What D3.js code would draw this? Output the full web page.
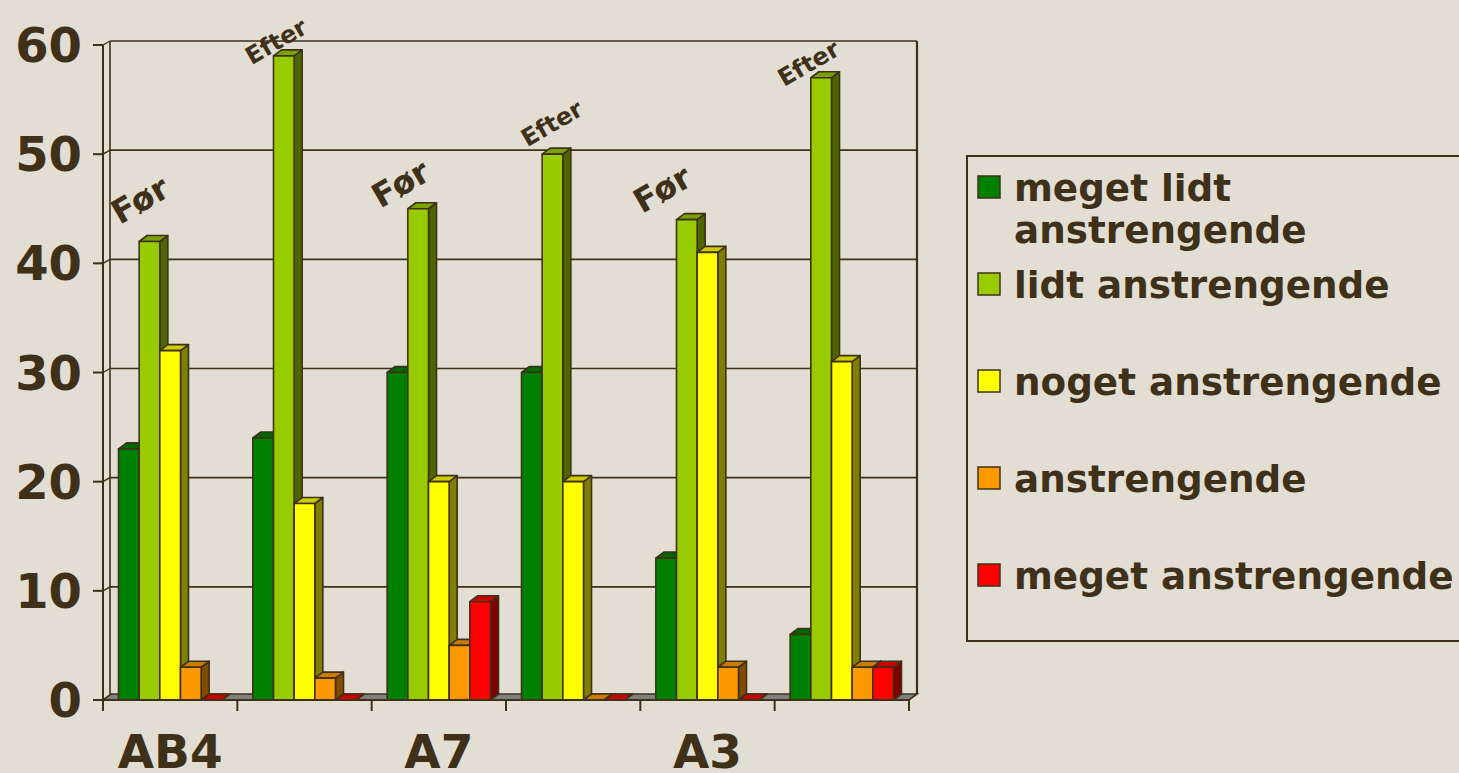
<!DOCTYPE html>
<html>
<head>
<meta charset="utf-8">
<script src="https://cdn.jsdelivr.net/npm/d3@7"></script>
<style>
  html, body { margin: 0; padding: 0; background: #e2ded4; }
  svg { display: block; }
  text { font-family: "DejaVu Sans", Verdana, sans-serif; font-weight: bold; fill: #3f3019; }
</style>
</head>
<body>
<svg id="chart" width="1459" height="773"></svg>
<script>
// Groups: each workplace measured before (Før) and after (Efter)
const groups = ["AB4 Før", "AB4 Efter", "A7 Før", "A7 Efter", "A3 Før", "A3 Efter"];
const axisLabels = ["AB4", "", "A7", "", "A3", ""];
const phaseLabels = ["Før", "Efter", "Før", "Efter", "Før", "Efter"];

// Series (percent of answers)
const seriesNames = ["meget lidt anstrengende", "lidt anstrengende", "noget anstrengende", "anstrengende", "meget anstrengende"];
const megetLidt    = [23, 24, 30, 30, 13, 6];
const lidt         = [42, 59, 45, 50, 44, 57];
const noget        = [32, 18, 20, 20, 41, 31];
const anstrengende = [3, 2, 5, 0, 3, 3];
const meget        = [0, 0, 9, 0, 0, 3];
const yTicks = [0, 10, 20, 30, 40, 50, 60];

(function draw() {
  const seriesValues = [megetLidt, lidt, noget, anstrengende, meget];
  const colors = ["#008000", "#99cc00", "#ffff00", "#ff9900", "#ff0000"];
  const ink = "#3f3019";

  const shade = (c, f) => { const r = d3.rgb(c); return d3.rgb(r.r * f, r.g * f, r.b * f).formatHex(); };

  const svg = d3.select("#chart");

  // Plot frame (front plane) and 3D offsets
  const pl = 103, pr = 909, pb = 700, pt = 45;
  const wall = { dx: 7, dy: -4 };   // back wall offset
  const depth = { dx: 8, dy: -6 };  // bar depth offset

  const x0 = d3.scaleBand().domain(d3.range(groups.length)).range([pl, pr]).paddingInner(0).paddingOuter(0);
  const x1 = d3.scaleBand().domain(d3.range(seriesNames.length)).range([0, x0.bandwidth()]).paddingInner(0).paddingOuter(0.75);
  const y = d3.scaleLinear().domain([0, 60]).range([pb, pt]);

  // Back wall gridlines and left wall
  const grid = svg.append("g").attr("stroke", ink).attr("fill", "none");
  yTicks.forEach(t => {
    const yy = y(t);
    if (t > 0) {
      grid.append("line").attr("x1", pl + wall.dx).attr("x2", pr + wall.dx + 1)
        .attr("y1", yy + wall.dy).attr("y2", yy + wall.dy).attr("stroke-width", 1.6);
    }
    grid.append("line").attr("x1", pl).attr("x2", pl + wall.dx)
      .attr("y1", yy).attr("y2", yy + wall.dy).attr("stroke-width", 1.4);
  });
  grid.append("line").attr("x1", pl + wall.dx).attr("x2", pl + wall.dx)
    .attr("y1", y(60) + wall.dy).attr("y2", y(0) + wall.dy).attr("stroke-width", 1.6);
  grid.append("line").attr("x1", pr + wall.dx + 1).attr("x2", pr + wall.dx + 1)
    .attr("y1", y(60) + wall.dy).attr("y2", y(0) + depth.dy).attr("stroke-width", 2.2);

  // Floor
  svg.append("path")
    .attr("d", `M${pl},${pb} L${pr},${pb} L${pr + depth.dx},${pb + depth.dy} L${pl + depth.dx},${pb + depth.dy} Z`)
    .attr("fill", "#808080").attr("stroke", ink).attr("stroke-width", 1.6);

  // Bars: side, top, front for each; left to right so neighbours overlap correctly
  const bars = svg.append("g").attr("stroke", ink).attr("stroke-width", 1.6).attr("stroke-linejoin", "round");
  groups.forEach((g, gi) => {
    seriesValues.forEach((vals, si) => {
      const v = vals[gi];
      const xl = x0(gi) + x1(si), w = x1.bandwidth();
      const yt = y(v), yb = y(0);
      const c = colors[si];
      if (v > 0) {
        bars.append("path")
          .attr("d", `M${xl + w},${yb} L${xl + w + depth.dx},${yb + depth.dy} L${xl + w + depth.dx},${yt + depth.dy} L${xl + w},${yt} Z`)
          .attr("fill", shade(c, 0.5));
      }
      bars.append("path")
        .attr("d", `M${xl},${yt} L${xl + depth.dx},${yt + depth.dy} L${xl + w + depth.dx},${yt + depth.dy} L${xl + w},${yt} Z`)
        .attr("fill", shade(c, 0.8));
      if (v > 0) {
        bars.append("rect").attr("x", xl).attr("y", yt).attr("width", w).attr("height", yb - yt)
          .attr("fill", c);
      }
    });
  });

  // Axes
  const axes = svg.append("g").attr("stroke", ink).attr("stroke-width", 2);
  axes.append("line").attr("x1", pl).attr("x2", pl).attr("y1", y(60)).attr("y2", pb + 11);
  axes.append("line").attr("x1", pl - 10).attr("x2", pr).attr("y1", pb).attr("y2", pb);
  yTicks.forEach(t => {
    axes.append("line").attr("x1", pl - 10).attr("x2", pl).attr("y1", y(t)).attr("y2", y(t));
  });
  d3.range(groups.length + 1).forEach(i => {
    const xx = i < groups.length ? x0(i) : pr;
    axes.append("line").attr("x1", xx).attr("x2", xx).attr("y1", pb).attr("y2", pb + 11);
  });

  // Tick labels
  svg.append("g").selectAll("text").data(yTicks).join("text")
    .attr("x", 82).attr("y", d => y(d)).attr("text-anchor", "end")
    .attr("dominant-baseline", "central").attr("font-size", 48).text(d => d);

  svg.append("g").selectAll("text").data(axisLabels).join("text")
    .attr("x", (d, i) => x0(i) + x0.bandwidth() / 2).attr("y", 768)
    .attr("text-anchor", "middle").attr("font-size", 47).text(d => d);

  // Før / Efter annotations (offset from group start, height in axis units)
  const phaseLayout = [[37, 45.8], [39, 60.3], [29, 47.3], [46, 52.8], [22, 46.8], [34, 58.3]];
  svg.append("g").selectAll("text").data(phaseLabels).join("text")
    .attr("transform", (d, i) => `translate(${x0(i) + phaseLayout[i][0]},${y(phaseLayout[i][1])}) rotate(-30)`)
    .attr("text-anchor", "middle").attr("dominant-baseline", "central")
    .attr("font-size", d => d === "Før" ? 33 : 24).text(d => d);

  // Legend
  const legend = svg.append("g");
  legend.append("rect").attr("x", 967).attr("y", 156).attr("width", 600).attr("height", 485)
    .attr("fill", "none").attr("stroke", ink).attr("stroke-width", 2);
  const legendLines = [["meget lidt", "anstrengende"], ["lidt anstrengende"], ["noget anstrengende"], ["anstrengende"], ["meget anstrengende"]];
  const ly = d3.scalePoint().domain(d3.range(seriesNames.length)).range([176, 564]);
  const items = legend.selectAll("g.item").data(seriesNames).join("g").attr("class", "item");
  items.append("rect").attr("x", 978).attr("y", (d, i) => ly(i)).attr("width", 22).attr("height", 22)
    .attr("fill", (d, i) => colors[i]).attr("stroke", ink).attr("stroke-width", 1.5);
  items.each(function (d, i) {
    const t = d3.select(this).append("text").attr("x", 1014).attr("y", ly(i) + 25).attr("font-size", 37.3);
    legendLines[i].forEach((line, k) => {
      t.append("tspan").attr("x", 1014).attr("dy", k === 0 ? 0 : 42).text(line);
    });
  });
})();
</script>
</body>
</html>
